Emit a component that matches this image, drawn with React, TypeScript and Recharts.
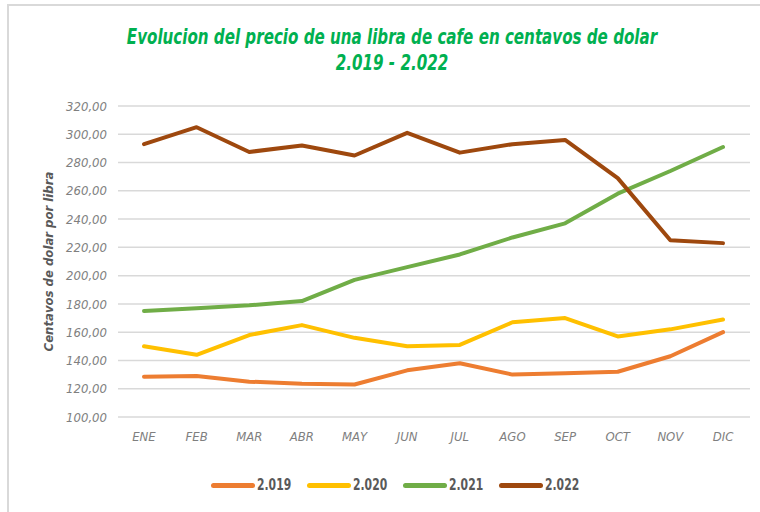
import React from 'react'
import {
  LineChart,
  Line,
  XAxis,
  YAxis,
  CartesianGrid,
  Label
} from 'recharts'

const months = ['ENE', 'FEB', 'MAR', 'ABR', 'MAY', 'JUN', 'JUL', 'AGO', 'SEP', 'OCT', 'NOV', 'DIC']
const y2019 = [128.5, 129, 125, 123.5, 123, 133, 138, 130, 131, 132, 143, 160]
const y2020 = [150, 144, 158, 165, 156, 150, 151, 167, 170, 157, 162, 169]
const y2021 = [175, 177, 179, 182, 197, 206, 215, 227, 237, 258, 274, 291]
const y2022 = [293, 305, 287.5, 292, 285, 301, 287, 293, 296, 269, 225, 223]
const yTicks = [100, 120, 140, 160, 180, 200, 220, 240, 260, 280, 300, 320]

const seriesNames = ['2.019', '2.020', '2.021', '2.022']
const seriesKeys = ['s2019', 's2020', 's2021', 's2022']
const seriesColors = ['#ED7D31', '#FFC000', '#70AD47', '#9E480E']

const narrow = '"DejaVu Sans Condensed", "Liberation Sans", sans-serif'

const data = months.map((m, i) => ({
  month: m,
  s2019: y2019[i],
  s2020: y2020[i],
  s2021: y2021[i],
  s2022: y2022[i]
}))

function ChartLegend() {
  return (
    <div style={{ position: 'absolute', left: 0, top: 476, width: 792, display: 'flex', justifyContent: 'center', gap: 14 }}>
      {seriesNames.map((n, i) => (
        <div key={n} style={{ display: 'flex', alignItems: 'center', height: 18 }}>
          <div style={{ width: 44, height: 5, borderRadius: 3, background: seriesColors[i], marginRight: 2 }} />
          <div style={{ width: 36, overflow: 'visible', whiteSpace: 'nowrap' }}>
            <span style={{ display: 'inline-block', transform: 'scaleX(0.8)', transformOrigin: '0 50%', fontFamily: narrow, fontWeight: 'bold', fontSize: 15, color: '#595959' }}>{n}</span>
          </div>
        </div>
      ))}
    </div>
  )
}

export default function App() {
  return (
    <div style={{ position: 'absolute', left: 0, top: 0, width: 760, height: 512, background: '#fff', overflow: 'hidden' }}>
      <div style={{ position: 'absolute', left: 7, top: 4, width: 800, height: 600, borderTop: '2px solid #d9d9d9', borderLeft: '2px solid #d9d9d9' }} />
      <div style={{ position: 'absolute', left: 0, top: 24, width: 784, textAlign: 'center', fontFamily: narrow, fontStyle: 'italic', fontWeight: 'bold', fontSize: 21, color: '#00B050', lineHeight: '26px', transform: 'scaleX(0.8)', transformOrigin: '392px 0' }}>
        <div>Evolucion del precio de una libra de cafe en centavos de dolar</div>
        <div>2.019 - 2.022</div>
      </div>
      <div style={{ position: 'absolute', left: 0, top: 0 }}>
        <LineChart width={760} height={512} data={data} margin={{ top: 106, right: 10, left: 58, bottom: 65 }}>
          <CartesianGrid vertical={false} stroke="#d9d9d9" strokeWidth={1.5} />
          <XAxis
            dataKey="month"
            axisLine={false}
            tickLine={false}
            height={30}
            tickMargin={9}
            padding={{ left: 26, right: 27 }}
            tick={{ fontFamily: narrow, fontStyle: 'italic', fontSize: 13, fill: '#7f7f7f' }}
          />
          <YAxis
            domain={[100, 320]}
            ticks={yTicks}
            width={60}
            axisLine={false}
            tickLine={false}
            tickMargin={5}
            tickFormatter={(v: number) => v.toFixed(2).replace('.', ',')}
            tick={{ fontFamily: narrow, fontStyle: 'italic', fontSize: 13, fill: '#7f7f7f' }}
          >
            <Label
              value="Centavos  de dolar  por libra"
              angle={-90}
              position="insideLeft"
              offset={-10}
              style={{ fontFamily: narrow, fontStyle: 'italic', fontWeight: 'bold', fontSize: 13, fill: '#595959', whiteSpace: 'pre', textAnchor: 'middle' }}
            />
          </YAxis>
          {seriesKeys.map((k, i) => (
            <Line
              key={k}
              type="linear"
              dataKey={k}
              name={seriesNames[i]}
              stroke={seriesColors[i]}
              strokeWidth={4}
              strokeLinecap="round"
              strokeLinejoin="round"
              dot={false}
              activeDot={false}
              isAnimationActive={false}
            />
          ))}
        </LineChart>
      </div>
      <ChartLegend />
    </div>
  )
}
